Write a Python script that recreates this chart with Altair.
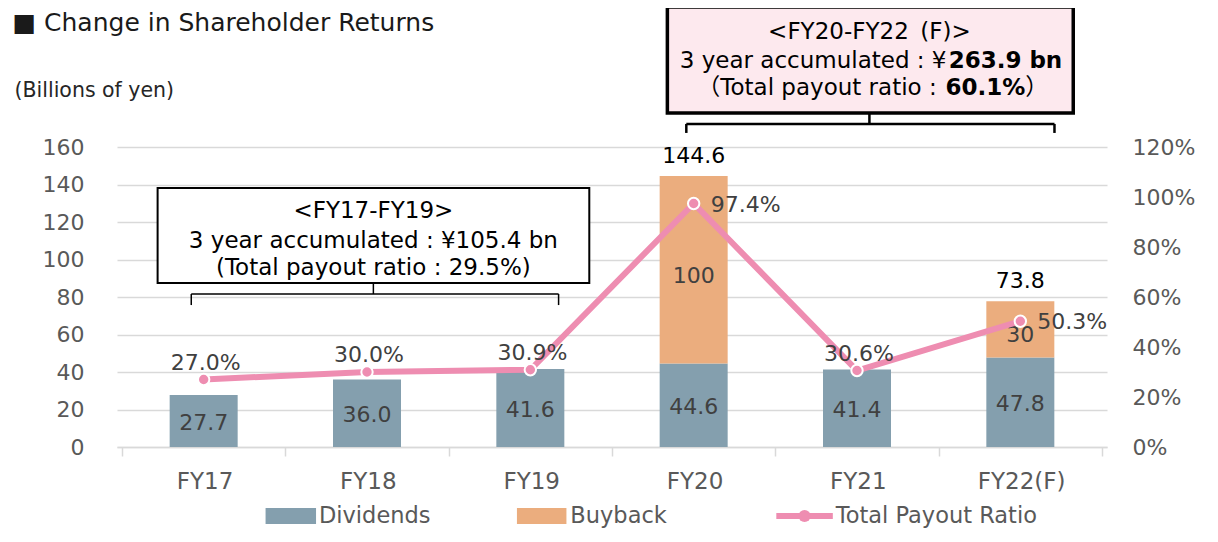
import altair as alt
import pandas as pd

# ---------------- data ----------------
categories = ["FY17", "FY18", "FY19", "FY20", "FY21", "FY22(F)"]
dividends = [27.7, 36.0, 41.6, 44.6, 41.4, 47.8]
buyback = [0, 0, 0, 100, 0, 30]
payout_ratio = [27.0, 30.0, 30.9, 97.4, 30.6, 50.3]
total_labels = ["", "", "", "144.6", "", "73.8"]
ratio_labels_right = ["FY20", "FY22(F)"]
left_ticks = [0, 20, 40, 60, 80, 100, 120, 140, 160]
right_ticks = [0, 20, 40, 60, 80, 100, 120]
series_names = ["Dividends", "Buyback", "Total Payout Ratio"]
series_colors = ["#849FAE", "#EBAD7E", "#EE8DB1"]

box_texts_1 = ["<FY17-FY19>", "3 year accumulated : ¥105.4 bn", "(Total payout ratio : 29.5%)"]
box_title_2 = ["<FY20-FY22\u2002(F)>"]
box_texts_2_plain = ["3 year accumulated : ¥", "（Total payout ratio :"]
box_texts_2_bold = ["263.9 bn", "60.1%"]
box_texts_2_tail = ["）"]

FONT = "DejaVu Sans, Noto Sans CJK JP"
GREY = "#595959"
DARK = "#404040"
PINK = series_colors[2]

idx = list(range(len(categories)))

# ---------------- tables ----------------
bars = pd.DataFrame({
    "i": idx * 2,
    "cat": categories * 2,
    "series": ["Dividends"] * len(idx) + ["Buyback"] * len(idx),
    "value": dividends + buyback,
    "base": [0] * len(idx) + dividends,
})
bars["top"] = bars["base"] + bars["value"]
bars["mid"] = bars["base"] + bars["value"] / 2
bars["label"] = [f"{v:.1f}" for v in dividends] + [f"{v:g}" for v in buyback]
bars = bars[bars["value"] > 0]

totals = pd.DataFrame({
    "i": idx,
    "cat": categories,
    "total": [d + b for d, b in zip(dividends, buyback)],
    "label": total_labels,
})

ratio = pd.DataFrame({
    "i": idx,
    "cat": categories,
    "ratio": payout_ratio,
    "label": [f"{v:.1f}%" for v in payout_ratio],
})

# annotation geometry in data units (x: category index, y: billions of yen)
boxes = pd.DataFrame({
    "x1": [-0.282, 2.839], "x2": [2.361, 5.324],
    "y1": [138.1, 234.7], "y2": [87.5, 178.1],
    "fill": ["#FFFFFF", "#FDE9EE"], "sw": [2.0, 3.5],
})
brackets = pd.DataFrame({
    "x1": [-0.076, -0.076, 2.173, 1.039, 2.955, 2.955, 5.209, 4.076],
    "x2": [2.173, -0.076, 2.173, 1.039, 5.209, 2.955, 5.209, 4.076],
    "y1": [81.6, 81.6, 81.6, 87.5, 172.3, 172.3, 172.3, 178.1],
    "y2": [81.6, 75.7, 75.7, 81.6, 172.3, 167.5, 167.5, 172.3],
    "sw": [1.5, 1.5, 1.5, 1.5, 2.5, 2.5, 2.5, 2.5],
})
text1 = pd.DataFrame({"x": [1.039] * 3, "y": [125.9, 109.9, 95.5], "t": box_texts_1})
text2_title = pd.DataFrame({"x": [4.076], "y": [221.3], "t": box_title_2})
text2_plain = pd.DataFrame({"x": [4.548, 4.488], "y": [205.9, 191.5], "t": box_texts_2_plain})
text2_bold = pd.DataFrame({"x": [4.561, 4.542], "y": [205.9, 191.5], "t": box_texts_2_bold})
text2_tail = pd.DataFrame({"x": [5.03], "y": [191.5], "t": box_texts_2_tail})

# legend placed below the axis, in data units
LEG_Y = -36.8
leg_swatch = pd.DataFrame({
    "series": series_names[:2],
    "x1": [0.379, 1.918], "x2": [0.688, 2.221],
    "y1": [LEG_Y + 4.3, LEG_Y + 4.3], "y2": [LEG_Y - 4.3, LEG_Y - 4.3],
})
leg_line = pd.DataFrame({"series": series_names[2:], "x1": [3.506], "x2": [3.852], "xc": [3.679], "y": [LEG_Y]})
leg_text = pd.DataFrame({"series": series_names, "x": [0.706, 2.245, 3.870], "y": [LEG_Y] * 3})

# ---------------- scales / axes ----------------
label_array = "[" + ",".join(f"'{c}'" for c in categories) + "]"
x_scale = alt.Scale(domain=[-0.5, len(categories) - 0.5], nice=False, zero=False)
x_axis = alt.Axis(
    values=[i - 0.5 for i in range(len(categories) + 1)],
    labelExpr=f"{label_array}[datum.value + 0.5] || ''",
    labelOffset=82.5, labelFlush=False, labelOverlap=False,
    grid=False, domainColor="#D9D9D9", domainWidth=1.5,
    tickColor="#D9D9D9", tickWidth=1.5, tickSize=9,
    labelPadding=14, labelFontSize=23, labelColor=GREY, labelFont=FONT,
    title=None,
)
y_scale = alt.Scale(domain=[0, 160], nice=False)
y_axis = alt.Axis(
    values=left_ticks, grid=True, gridColor="#D9D9D9", gridWidth=1.5,
    domain=False, ticks=False, tickSize=0, labelPadding=33,
    labelFontSize=22, labelColor=GREY, labelFont=FONT,
    title="(Billions of yen)", titleAngle=0, titleX=-103, titleY=-57,
    titleAlign="left", titleBaseline="middle", titleFontSize=20.5,
    titleFontWeight="normal", titleColor="#262626", titleFont=FONT,
)
r_scale = alt.Scale(domain=[0, 120], nice=False)
r_axis = alt.Axis(
    orient="right", values=right_ticks, labelExpr="datum.value + '%'",
    grid=False, domain=False, ticks=False, tickSize=0, labelPadding=25,
    labelFontSize=22, labelColor=GREY, labelFont=FONT,
    title="■  Change in Shareholder Returns", titleAngle=0,
    titleX=-1095, titleY=-125, titleAlign="left", titleBaseline="middle",
    titleFontSize=25, titleFontWeight="normal", titleColor="#1a1a1a", titleFont=FONT,
)


def X(f):
    return alt.X(f"{f}:Q", scale=x_scale, axis=x_axis)


def Y(f):
    return alt.Y(f"{f}:Q", scale=y_scale, axis=y_axis)


def R(f):
    return alt.Y(f"{f}:Q", scale=r_scale, axis=r_axis)


fill_scale = alt.Scale(domain=series_names, range=series_colors)

# ---------------- left (yen) layers ----------------
bar_layer = alt.Chart(bars).mark_bar(size=68).encode(
    x=X("i"), y=Y("top"), y2="base:Q",
    fill=alt.Fill("series:N", scale=fill_scale, legend=None),
)
div_text = alt.Chart(bars).transform_filter(f"datum.series == '{series_names[0]}'").mark_text(
    fontSize=22, color=DARK, font=FONT, baseline="middle", dy=2).encode(
    x=X("i"), y=Y("mid"), text="label:N")
buy_text = alt.Chart(bars).transform_filter(f"datum.series == '{series_names[1]}'").mark_text(
    fontSize=22, color=DARK, font=FONT, baseline="middle", dy=6).encode(
    x=X("i"), y=Y("mid"), text="label:N")
total_text = alt.Chart(totals).transform_filter("datum.label != ''").mark_text(
    fontSize=22, color="#000000", font=FONT, baseline="middle", dy=-20
).encode(x=X("i"), y=Y("total"), text="label:N")

box_layer = alt.Chart(boxes).mark_rect(stroke="#000000").encode(
    x=X("x1"), x2="x2:Q", y=Y("y1"), y2="y2:Q",
    fill=alt.Fill("fill:N", scale=None),
    strokeWidth=alt.StrokeWidth("sw:Q", scale=None),
)
bracket_layer = alt.Chart(brackets).mark_rule(color="#000000").encode(
    x=X("x1"), x2="x2:Q", y=Y("y1"), y2="y2:Q",
    strokeWidth=alt.StrokeWidth("sw:Q", scale=None),
)
txt = dict(fontSize=23, font=FONT, color="#000000", baseline="middle")
t1 = alt.Chart(text1).mark_text(**txt).encode(x=X("x"), y=Y("y"), text="t:N")
t2t = alt.Chart(text2_title).mark_text(**txt).encode(x=X("x"), y=Y("y"), text="t:N")
t2a = alt.Chart(text2_plain).mark_text(align="right", **txt).encode(x=X("x"), y=Y("y"), text="t:N")
t2b = alt.Chart(text2_bold).mark_text(align="left", fontWeight="bold", **txt).encode(
    x=X("x"), y=Y("y"), text="t:N")
t2c = alt.Chart(text2_tail).mark_text(align="left", **txt).encode(x=X("x"), y=Y("y"), text="t:N")

# legend
leg_rects = alt.Chart(leg_swatch).mark_rect().encode(
    x=X("x1"), x2="x2:Q", y=Y("y1"), y2="y2:Q",
    fill=alt.Fill("series:N", scale=fill_scale, legend=None),
)
leg_rule = alt.Chart(leg_line).mark_rule(strokeWidth=6, color=PINK).encode(
    x=X("x1"), x2="x2:Q", y=Y("y"))
leg_dot = alt.Chart(leg_line).mark_circle(size=150, color=PINK, opacity=1).encode(
    x=X("xc"), y=Y("y"))
leg_labels = alt.Chart(leg_text).mark_text(
    fontSize=22.5, color=GREY, font=FONT, align="left", baseline="middle").encode(
    x=X("x"), y=Y("y"), text="series:N")

left = alt.layer(bar_layer, div_text, buy_text, total_text, box_layer, bracket_layer,
                 t1, t2t, t2a, t2b, t2c, leg_rects, leg_rule, leg_dot, leg_labels)

# ---------------- right (ratio) layers ----------------
right_list = "[" + ",".join(f"'{c}'" for c in ratio_labels_right) + "]"
line_layer = alt.Chart(ratio).mark_line(color=PINK, strokeWidth=6).encode(x=X("i"), y=R("ratio"))
point_layer = alt.Chart(ratio).mark_circle(size=130, color=PINK, opacity=1, stroke="#FFFFFF",
                                           strokeWidth=2).encode(x=X("i"), y=R("ratio"))
ratio_above = alt.Chart(ratio).transform_filter(
    f"indexof({right_list}, datum.cat) < 0"
).mark_text(fontSize=22, color=DARK, font=FONT, baseline="middle", dy=-17, dx=2).encode(
    x=X("i"), y=R("ratio"), text="label:N")
ratio_right = alt.Chart(ratio).transform_filter(
    f"indexof({right_list}, datum.cat) >= 0"
).mark_text(fontSize=22, color=DARK, font=FONT, baseline="middle", align="left", dx=17, dy=1).encode(
    x=X("i"), y=R("ratio"), text="label:N")

right = alt.layer(line_layer, point_layer, ratio_above, ratio_right)

chart = alt.layer(left, right).resolve_scale(y="independent").properties(
    width=990, height=300,
    autosize=alt.AutoSizeParams(type="none"),
    padding={"left": 109, "top": 139, "right": 90, "bottom": 82},
).configure(font=FONT, view={"stroke": None})

chart.save("out.html", embed_options={"renderer": "svg", "actions": False})
